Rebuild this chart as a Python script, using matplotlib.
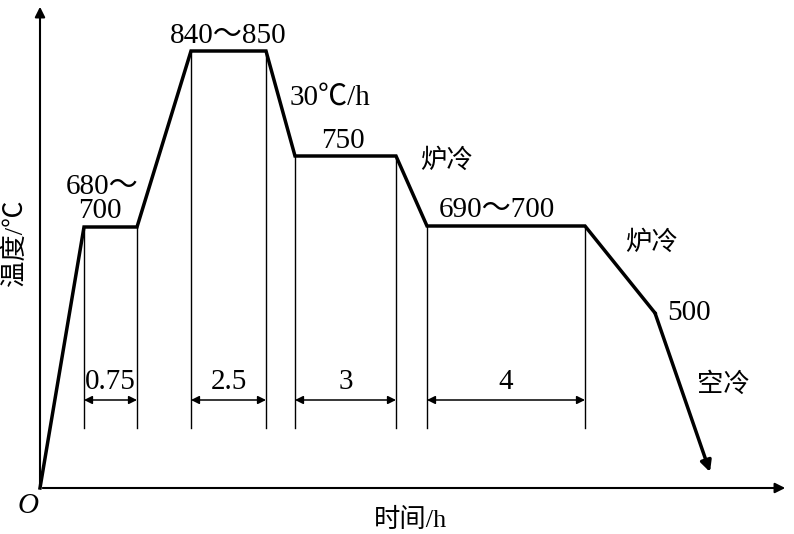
import matplotlib
matplotlib.use("Agg")
import matplotlib.pyplot as plt

plt.rcParams['font.family'] = ['Liberation Serif', 'Noto Sans CJK SC', 'DejaVu Sans']

# schematic profile (drawing units, origin at axis origin)
time_pts = [0, 44, 97, 151, 226, 255, 356, 387, 545, 615]
temp_pts = [0, 261, 261, 437, 437, 332, 332, 262, 262, 175]
end_pt = (670, 16)

# hold segments: (start index, end index, label)
hold_spans = [(1, 2, '0.75'), (3, 4, '2.5'), (5, 6, '3'), (7, 8, '4')]
dim_y = 88
guide_bottom = 60

NUM = 21
CJK = 19

fig = plt.figure(figsize=(7.94, 5.34), dpi=100)
ax = fig.add_axes([0, 0, 1, 1])
ax.set_xlim(-40, 754)
ax.set_ylim(-46, 488)
ax.axis('off')

# axes with arrows
ax.annotate('', xy=(0, 484), xytext=(0, 0),
            arrowprops=dict(arrowstyle='-|>', lw=1.5, color='black', mutation_scale=15))
ax.annotate('', xy=(748, 0), xytext=(0, 0),
            arrowprops=dict(arrowstyle='-|>', lw=1.5, color='black', mutation_scale=15))

# profile
ax.plot(time_pts, temp_pts, color='black', lw=2.5, solid_joinstyle='miter')
ax.annotate('', xy=end_pt, xytext=(time_pts[-1], temp_pts[-1]),
            arrowprops=dict(arrowstyle='-|>', lw=2.5, color='black', mutation_scale=16,
                            shrinkA=0, shrinkB=0))

# guide lines and dimension arrows
for i0, i1, lab in hold_spans:
    for i in (i0, i1):
        ax.plot([time_pts[i], time_pts[i]], [temp_pts[i], guide_bottom], color='black', lw=1.0)
    ax.annotate('', xy=(time_pts[i1], dim_y), xytext=(time_pts[i0], dim_y),
                arrowprops=dict(arrowstyle='<|-|>', lw=1.1, color='black', mutation_scale=12,
                                shrinkA=0, shrinkB=0))
    ax.text((time_pts[i0] + time_pts[i1]) / 2, dim_y + 5, lab, ha='center', va='bottom', fontsize=NUM)

# labels
ax.text(62, 288, '680～', ha='center', va='bottom', fontsize=NUM)
ax.text(60, 264, '700', ha='center', va='bottom', fontsize=NUM)
ax.text(188, 439, '840～850', ha='center', va='bottom', fontsize=NUM)
ax.text(250, 390, '30℃/h', ha='left', va='center', fontsize=NUM)
ax.text(303, 334, '750', ha='center', va='bottom', fontsize=NUM)
ax.text(380, 327, '炉冷', ha='left', va='center', fontsize=CJK)
ax.text(457, 265, '690～700', ha='center', va='bottom', fontsize=NUM)
ax.text(585, 245, '炉冷', ha='left', va='center', fontsize=CJK)
ax.text(627, 175, '500', ha='left', va='center', fontsize=NUM)
ax.text(657, 103, '空冷', ha='left', va='center', fontsize=CJK)
ax.text(-12, -18, 'O', ha='center', va='center', fontsize=NUM, style='italic')
ax.text(-25, 245, '温度/℃', ha='center', va='center', fontsize=CJK, rotation=90)
ax.text(370, -32, '时间/h', ha='center', va='center', fontsize=CJK)

fig.savefig('out.png', dpi=100)
